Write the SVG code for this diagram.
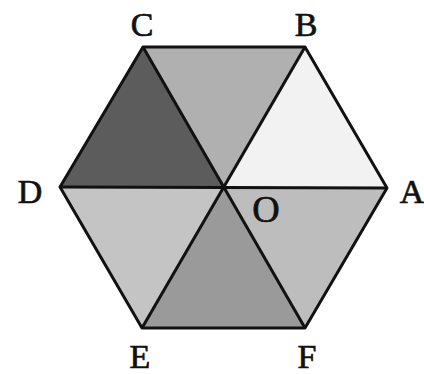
<svg xmlns="http://www.w3.org/2000/svg" width="424" height="374" viewBox="0 0 424 374">
<style>
.t{font-family:"Liberation Serif","Times New Roman",serif;font-size:34px;fill:#111;stroke:#111;stroke-width:0.7;text-anchor:middle}
.e{stroke:#111;stroke-width:3;stroke-linejoin:round;fill:none}
</style>
<rect width="424" height="374" fill="#fff"/>
<g id="shading">
<polygon points="143,47 60,187 223,187" fill="#5c5c5c"/>
<polygon points="143,47 305,47 223,187" fill="#b0b0b0"/>
<polygon points="305,47 387,188 223,187" fill="#f2f2f2"/>
<polygon points="387,188 305,328 223,187" fill="#bdbdbd"/>
<polygon points="305,328 142,328 223,187" fill="#9a9a9a"/>
<polygon points="142,328 60,187 223,187" fill="#c4c4c4"/>
</g>
<g id="edges">
<polygon class="e" points="143,47 305,47 387,188 305,328 142,328 60,187"/>
<line class="e" x1="143" y1="47" x2="305" y2="328"/>
<line class="e" x1="305" y1="47" x2="142" y2="328"/>
<line class="e" x1="60" y1="187" x2="387" y2="188"/>
</g>
<g id="labels">
<text class="t" x="142" y="36">C</text>
<text class="t" x="306" y="36">B</text>
<text class="t" x="30" y="203">D</text>
<text class="t" x="412" y="203">A</text>
<text class="t" x="266" y="222" style="font-size:38px">O</text>
<text class="t" x="140" y="368">E</text>
<text class="t" x="307" y="368">F</text>
</g>
</svg>
